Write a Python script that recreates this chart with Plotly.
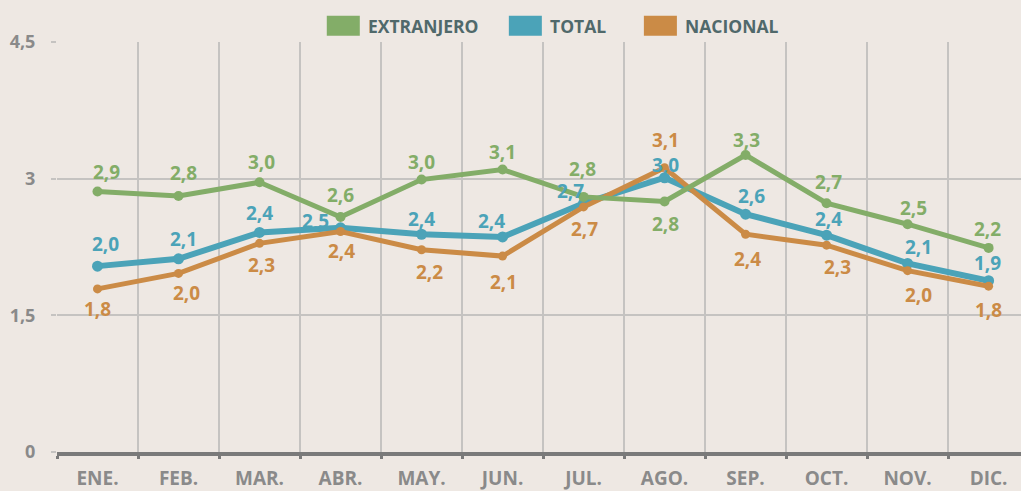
import plotly.graph_objects as go

months = ["ENE.", "FEB.", "MAR.", "ABR.", "MAY.", "JUN.", "JUL.", "AGO.", "SEP.", "OCT.", "NOV.", "DIC."]

extranjero = [2.86, 2.81, 2.96, 2.58, 2.99, 3.10, 2.80, 2.75, 3.26, 2.73, 2.50, 2.24]
total = [2.04, 2.12, 2.41, 2.46, 2.39, 2.36, 2.73, 3.01, 2.61, 2.38, 2.07, 1.88]
nacional = [1.79, 1.96, 2.29, 2.42, 2.22, 2.15, 2.69, 3.12, 2.39, 2.27, 1.99, 1.82]

extranjero_labels = ["2,9", "2,8", "3,0", "2,6", "3,0", "3,1", "2,8", "2,8", "3,3", "2,7", "2,5", "2,2"]
total_labels = ["2,0", "2,1", "2,4", "2,5", "2,4", "2,4", "2,7", "3,0", "2,6", "2,4", "2,1", "1,9"]
nacional_labels = ["1,8", "2,0", "2,3", "2,4", "2,2", "2,1", "2,7", "3,1", "2,4", "2,3", "2,0", "1,8"]

y_tickvals = [0, 1.5, 3, 4.5]
y_ticktext = ["0", "1,5", "3", "4,5"]

# label offsets in pixels (dx right, dy down) -- styling
ext_off = [(9, -19), (5, -23), (2, -20), (0, -22), (0, -18), (0, -18), (-1, -28), (1, 23), (1, -15), (2, -21), (6, -16), (-1, -19)]
tot_off = [(8, -22), (5, -20), (0, -19), (-25, -7), (0, -15), (-11, -16), (-13, -12), (1, -13), (6, -18), (2, -16), (11, -16), (-1, -18)]
nac_off = [(0, 20), (8, 20), (2, 22), (1, 19), (8, 22), (1, 26), (1, 22), (1, -28), (2, 25), (11, 22), (11, 24), (0, 24)]

GREEN = "#83AD68"
BLUE = "#4BA3B8"
ORANGE = "#CB8B46"
BG = "#EEE8E3"
GRID = "#C5C3C1"
TICKFONT = "#8A8A8A"
LEGFONT = "#50696B"
FONT = "Open Sans"

fig = go.Figure()
styles = {"TOTAL": (6, 11), "NACIONAL": (5, 9), "EXTRANJERO": (5, 10)}
for name, vals, col in [("TOTAL", total, BLUE), ("NACIONAL", nacional, ORANGE), ("EXTRANJERO", extranjero, GREEN)]:
    lw, ms = styles[name]
    fig.add_trace(go.Scatter(
        x=months, y=vals, mode="lines+markers", name=name,
        line=dict(color=col, width=lw),
        marker=dict(color=col, size=ms),
        showlegend=False, hoverinfo="skip",
    ))

annotations = []
for vals, labels, offs, col in [(extranjero, extranjero_labels, ext_off, GREEN),
                                 (total, total_labels, tot_off, BLUE),
                                 (nacional, nacional_labels, nac_off, ORANGE)]:
    for m, v, t, (dx, dy) in zip(months, vals, labels, offs):
        annotations.append(dict(
            x=m, y=v, xref="x", yref="y", text="<b>%s</b>" % t, showarrow=False,
            xshift=dx, yshift=-dy, font=dict(family=FONT, size=19, color=col),
            xanchor="center", yanchor="middle",
        ))

# legend (custom swatches)
L, R, T, B = 57.3, 1021.0, 42.3, 452.3
W, H = R - L, B - T
def px(x):
    return (x - L) / W
def py(y):
    return (B - y) / H

shapes = []
legend_items = [("EXTRANJERO", GREEN, 327), ("TOTAL", BLUE, 509), ("NACIONAL", ORANGE, 644)]
for name, col, x0 in legend_items:
    shapes.append(dict(type="rect", xref="paper", yref="paper",
                       x0=px(x0), x1=px(x0 + 33), y0=py(36), y1=py(16),
                       fillcolor=col, line=dict(width=0), layer="above"))
    annotations.append(dict(x=px(x0 + 39), y=py(26), xref="paper", yref="paper",
                            text="<b>%s</b>" % name, showarrow=False,
                            xanchor="left", yanchor="middle",
                            font=dict(family=FONT, size=17.5, color=LEGFONT)))

fig.update_layout(
    width=1021, height=491,
    margin=dict(l=57, r=0, t=42, b=39, autoexpand=False),
    paper_bgcolor=BG, plot_bgcolor=BG,
    showlegend=False,
    annotations=annotations,
    shapes=shapes,
    font=dict(family=FONT),
)
fig.update_xaxes(
    type="category", range=[-0.5, 11.4],
    tickson="boundaries", ticks="outside", ticklen=3, tickwidth=3, tickcolor="#7A7A7A",
    showgrid=True, gridcolor=GRID, gridwidth=1.5,
    showline=True, linecolor="#7A7A7A", linewidth=4,
    tickfont=dict(family=FONT, size=19, color=TICKFONT),
    ticklabelstandoff=6,
    automargin=False,
    fixedrange=True,
)
fig.update_xaxes(tickvals=months, ticktext=["<b>%s</b>" % m for m in months])
fig.update_yaxes(
    range=[0, 4.5], tickvals=y_tickvals, ticktext=["<b>%s</b>" % t for t in y_ticktext],
    ticks="outside", ticklen=5, tickcolor=GRID, tickwidth=1.5,
    showgrid=True, gridcolor=GRID, gridwidth=1.5,
    zeroline=False, showline=False,
    tickfont=dict(family=FONT, size=18, color=TICKFONT),
    ticklabelstandoff=12,
    automargin=False,
    fixedrange=True,
)

fig.write_html("out.html", config={"displayModeBar": False},
               post_script="document.body.style.margin='0';document.body.style.overflow='hidden';document.body.style.background='%s';" % BG)
